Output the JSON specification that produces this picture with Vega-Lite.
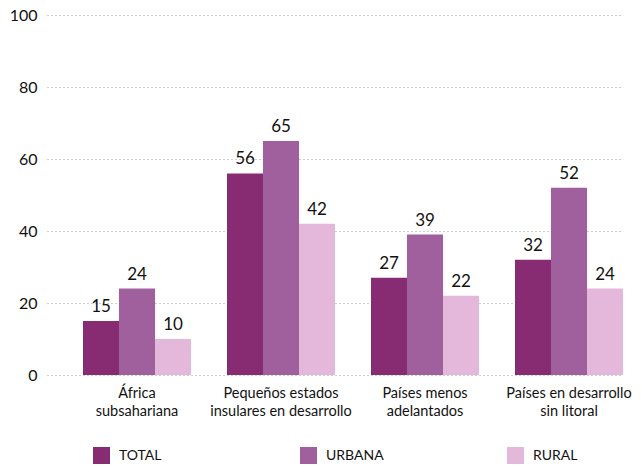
{
  "$schema": "https://vega.github.io/schema/vega-lite/v6.json",
  "width": 576,
  "height": 360,
  "autosize": {"type": "none"},
  "padding": {"left": 47, "top": 15, "right": 19, "bottom": 91},
  "config": {
    "font": "Lato",
    "view": {"stroke": null},
    "axis": {"labelFont": "Lato", "labelColor": "#111111"}
  },
  "data": {
    "values": [
      {"region": "África subsahariana", "serie": "TOTAL", "valor": 15},
      {"region": "África subsahariana", "serie": "URBANA", "valor": 24},
      {"region": "África subsahariana", "serie": "RURAL", "valor": 10},
      {"region": "Pequeños estados insulares en desarrollo", "serie": "TOTAL", "valor": 56},
      {"region": "Pequeños estados insulares en desarrollo", "serie": "URBANA", "valor": 65},
      {"region": "Pequeños estados insulares en desarrollo", "serie": "RURAL", "valor": 42},
      {"region": "Países menos adelantados", "serie": "TOTAL", "valor": 27},
      {"region": "Países menos adelantados", "serie": "URBANA", "valor": 39},
      {"region": "Países menos adelantados", "serie": "RURAL", "valor": 22},
      {"region": "Países en desarrollo sin litoral", "serie": "TOTAL", "valor": 32},
      {"region": "Países en desarrollo sin litoral", "serie": "URBANA", "valor": 52},
      {"region": "Países en desarrollo sin litoral", "serie": "RURAL", "valor": 24}
    ]
  },
  "encoding": {
    "x": {
      "field": "region",
      "type": "nominal",
      "sort": null,
      "scale": {"paddingInner": 0.25, "paddingOuter": 0.125, "align": 1},
      "axis": {
        "title": null,
        "labelAngle": 0,
        "domain": false,
        "ticks": false,
        "labelFontSize": 14.5,
        "labelPadding": 11,
        "labelLineHeight": 18,
        "labelLimit": 300,
        "labelExpr": "datum.value == 'África subsahariana' ? ['África', 'subsahariana'] : datum.value == 'Pequeños estados insulares en desarrollo' ? ['Pequeños estados', 'insulares en desarrollo'] : datum.value == 'Países menos adelantados' ? ['Países menos', 'adelantados'] : ['Países en desarrollo', 'sin litoral']"
      }
    },
    "xOffset": {"field": "serie", "type": "nominal", "sort": ["TOTAL", "URBANA", "RURAL"]},
    "y": {
      "field": "valor",
      "type": "quantitative",
      "scale": {"domain": [0, 100]},
      "axis": {
        "title": null,
        "values": [0, 20, 40, 60, 80, 100],
        "domain": false,
        "ticks": false,
        "labelFontSize": 16,
        "labelPadding": 10,
        "grid": true,
        "gridColor": "#9a9a9a",
        "gridDash": [1, 3],
        "gridWidth": 1
      }
    }
  },
  "layer": [
    {
      "mark": {"type": "bar"},
      "encoding": {
        "color": {
          "field": "serie",
          "type": "nominal",
          "sort": ["TOTAL", "URBANA", "RURAL"],
          "scale": {"domain": ["TOTAL", "URBANA", "RURAL"], "range": ["#872c72", "#a0609e", "#e4b8da"]},
          "legend": {
            "title": null,
            "orient": "none",
            "legendX": 46,
            "legendY": 432,
            "direction": "horizontal",
            "columns": 3,
            "gridAlign": "all",
            "columnPadding": 123,
            "symbolType": "square",
            "symbolSize": 289,
            "symbolStrokeWidth": 0,
            "labelFontSize": 14,
            "labelOffset": 9,
            "labelColor": "#111111"
          }
        }
      }
    },
    {
      "mark": {"type": "text", "baseline": "bottom", "dy": -5, "fontSize": 17, "color": "#111111"},
      "encoding": {
        "text": {"field": "valor", "type": "quantitative"}
      }
    }
  ]
}
